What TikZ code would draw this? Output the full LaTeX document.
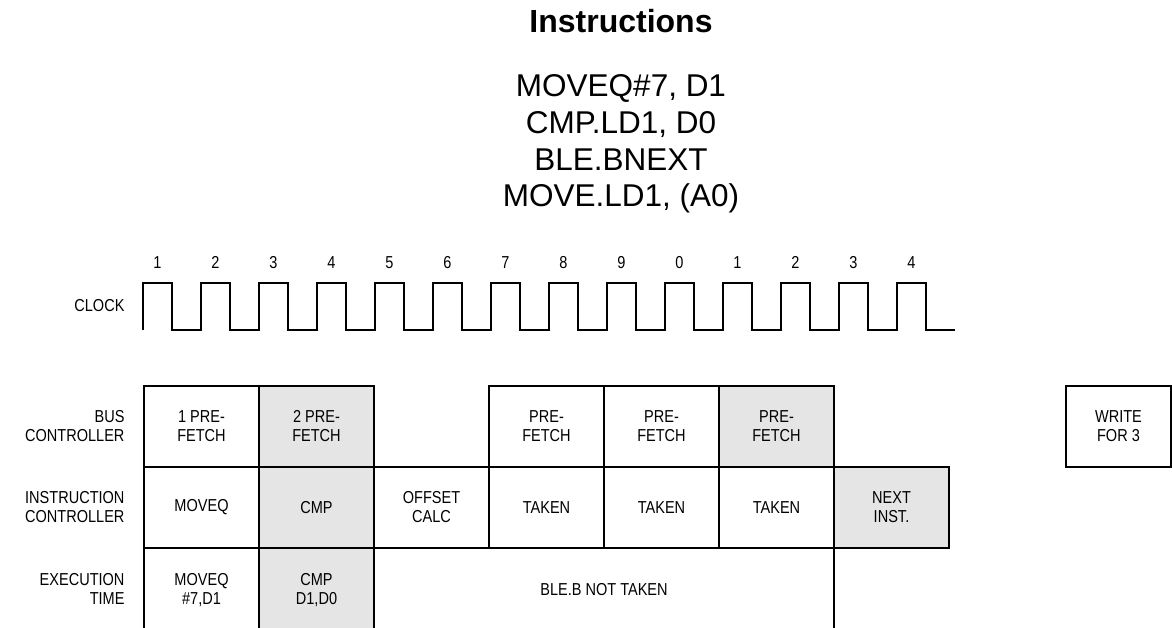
\documentclass[tikz,border=0pt]{standalone}
\usepackage{fontspec}
\setmainfont{Liberation Sans}
\newfontfamily\narrowsans[FakeStretch=0.84]{Liberation Sans}
\usepackage{xcolor}
\usepackage{tikz}
\usetikzlibrary{positioning}
\definecolor{shadegray}{gray}{0.9}

\begin{document}
\begin{tikzpicture}[
  x=1pt, y=-1pt,
  cell/.style={rectangle, draw, line width=1.6pt, minimum width=115pt, minimum height=81pt, inner sep=0pt, outer sep=0pt, align=center, font=\narrowsans\fontsize{17.3}{19}\selectfont},
  grey/.style={cell, fill=shadegray},
  lowcell/.style={cell, minimum height=84pt},
  rowname/.style={anchor=east, align=right, font=\narrowsans\fontsize{17.3}{19}\selectfont},
  tick/.style={anchor=base, font=\narrowsans\fontsize{17.3}{19}\selectfont},
  wave/.style={line width=1.6pt}
]
  \useasboundingbox (0,0) rectangle (1172,628);

  \node[font=\bfseries\fontsize{32}{36}\selectfont] (title) at (621,21) {Instructions};
  \node[align=center, font=\fontsize{31.5}{36.7}\selectfont] (code) at (621,144) {MOVEQ\#7, D1\\CMP.LD1, D0\\BLE.BNEXT\\MOVE.LD1, (A0)};

  % clock
  \node[rowname] (clk) at (128,306) {CLOCK};
  \coordinate (clk0) at (143,330);
  \draw[wave] (clk0) foreach \i in {1,...,14} { -- ++(0,-47) -- ++(29,0) -- ++(0,47) -- ++(29,0) };
  \foreach \n [count=\i from 0] in {1,2,3,4,5,6,7,8,9,0,1,2,3,4}
    \node[tick] (t\i) at (157.5+58*\i,269) {\n};

  % bus controller
  \node[cell, anchor=north west] (bus1) at (144,386) {1 PRE-\\FETCH};
  \node[grey, right=0pt of bus1] (bus2) {2 PRE-\\FETCH};
  \node[cell, draw=none, right=0pt of bus2] (bus3) {};
  \node[cell, right=0pt of bus3] (bus4) {PRE-\\FETCH};
  \node[cell, right=0pt of bus4] (bus5) {PRE-\\FETCH};
  \node[grey, right=0pt of bus5] (bus6) {PRE-\\FETCH};
  \node[cell, minimum width=105pt, anchor=north west] (write) at (1066,386) {WRITE\\FOR 3};

  % instruction controller
  \node[cell, below=0pt of bus1] (ins1) {MOVEQ};
  \node[grey, right=0pt of ins1] (ins2) {CMP};
  \node[cell, right=0pt of ins2] (ins3) {OFFSET\\CALC};
  \node[cell, right=0pt of ins3] (ins4) {TAKEN};
  \node[cell, right=0pt of ins4] (ins5) {TAKEN};
  \node[cell, right=0pt of ins5] (ins6) {TAKEN};
  \node[grey, right=0pt of ins6] (ins7) {NEXT\\INST.};

  % execution
  \node[lowcell, below=0pt of ins1] (exe1) {MOVEQ\\\#7,D1};
  \node[lowcell, fill=shadegray, right=0pt of exe1] (exe2) {CMP\\D1,D0};
  \node[lowcell, minimum width=460pt, right=0pt of exe2] (exe3) {BLE.B NOT TAKEN};

  \node[rowname, left=16pt of bus1] (busname) {BUS\\CONTROLLER};
  \node[rowname, left=16pt of ins1] (insname) {INSTRUCTION\\CONTROLLER};
  \node[rowname, left=16pt of exe1, yshift=1.5pt] (exename) {EXECUTION\\TIME};
\end{tikzpicture}
\end{document}
